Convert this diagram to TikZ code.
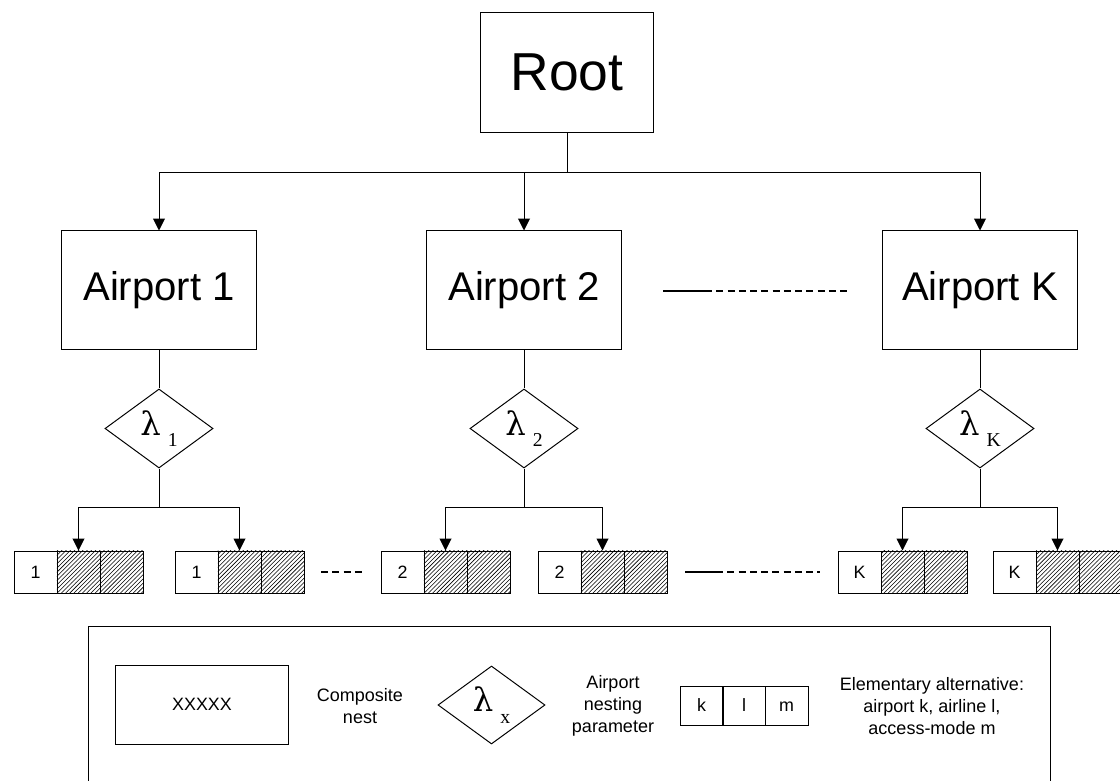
\documentclass[tikz,border=0pt]{standalone}
\usepackage{fontspec}
\setmainfont{Liberation Sans}
\newfontfamily\lamfont{Liberation Serif}
\newfontfamily\grecfont{DejaVu Serif}
\usetikzlibrary{shapes.geometric,arrows.meta,patterns}

\newcommand{\lamsub}[1]{{\grecfont\fontsize{23}{23}\selectfont λ\hspace{5pt}\raisebox{-8pt}{\lamfont\fontsize{14}{14}\selectfont #1}}}

\begin{document}
\begin{tikzpicture}[x=0.025cm,y=-0.025cm]
\tikzset{nest/.style={draw, line width=0.7pt, inner sep=0pt},
  lamnoeud/.style={draw, diamond, line width=0.7pt, inner sep=0pt, minimum width=2.7cm, minimum height=1.975cm},
  cell/.style={draw, line width=0.7pt, inner sep=0pt, minimum width=1.075cm, minimum height=1.05cm, text height=9pt, text depth=0pt, font=\fontsize{12.7}{14}\selectfont},
  hcell/.style={cell, pattern=north east lines},
  fleche/.style={line width=0.7pt, -{Triangle[length=8.5pt,width=8.5pt]}},
  pointilles/.style={line width=1.4pt, dash pattern=on 5pt off 3pt},
  legtext/.style={align=center, font=\fontsize{12.8}{15.6}\selectfont}}
\useasboundingbox (0,0) rectangle (1120,781);
% root and airports
\node[nest, minimum width=4.3cm, minimum height=2.975cm, font=\fontsize{38}{40}\selectfont] (root) at (567,72.5) {Root};
\node[nest, minimum width=4.85cm, minimum height=2.95cm, font=\fontsize{28.5}{30}\selectfont] (ap1) at (159,290) {Airport 1};
\node[nest, minimum width=4.85cm, minimum height=2.95cm, font=\fontsize{28.5}{30}\selectfont] (ap2) at (524,290) {Airport 2};
\node[nest, minimum width=4.85cm, minimum height=2.95cm, font=\fontsize{28.5}{30}\selectfont] (apK) at (980,290) {Airport K};
\coordinate (rj) at (567,172);
\draw[fleche] (root.south) -- (rj) -| (ap1.north);
\draw[fleche] (rj) -| (ap2.north);
\draw[fleche] (rj) -| (apK.north);
% nesting parameters
\node[lamnoeud] (d1) at (159,428.5) {\lamsub{1}};
\node[lamnoeud] (d2) at (524,428.5) {\lamsub{2}};
\node[lamnoeud] (dK) at (980,428.5) {\lamsub{K}};
\draw[line width=0.7pt] (ap1) -- (d1);
\draw[line width=0.7pt] (ap2) -- (d2);
\draw[line width=0.7pt] (apK) -- (dK);
% elementary alternatives
\node[cell] (e1a) at (35.5,572) {1};
\node[hcell] (e1b) at (78.5,572) {};
\node[hcell] (e1c) at (121.5,572) {};
\node[cell] (e2a) at (196.5,572) {1};
\node[hcell] (e2b) at (239.5,572) {};
\node[hcell] (e2c) at (282.5,572) {};
\node[cell] (e3a) at (402.5,572) {2};
\node[hcell] (e3b) at (445.5,572) {};
\node[hcell] (e3c) at (488.5,572) {};
\node[cell] (e4a) at (559.5,572) {2};
\node[hcell] (e4b) at (602.5,572) {};
\node[hcell] (e4c) at (645.5,572) {};
\node[cell] (e5a) at (859.5,572) {K};
\node[hcell] (e5b) at (902.5,572) {};
\node[hcell] (e5c) at (945.5,572) {};
\node[cell] (e6a) at (1014.5,572) {K};
\node[hcell] (e6b) at (1057.5,572) {};
\node[hcell] (e6c) at (1100.5,572) {};
\draw[fleche] (d1.south) -- ++(0,39) coordinate (j1) -| (e1b.north);
\draw[fleche] (j1) -| (e2b.north);
\draw[fleche] (d2.south) -- ++(0,39) coordinate (j2) -| (e3b.north);
\draw[fleche] (j2) -| (e4b.north);
\draw[fleche] (dK.south) -- ++(0,39) coordinate (jK) -| (e5b.north);
\draw[fleche] (jK) -| (e6b.north);
% dots between nodes
\coordinate (g1a) at (663,291);
\coordinate (g1b) at (705,291);
\coordinate (g1c) at (847,291);
\draw[line width=1.4pt] (g1a) -- (g1b);
\draw[pointilles] (g1b) -- (g1c);
\coordinate (g2a) at (321,572);
\coordinate (g2b) at (362,572);
\draw[pointilles] (g2a) -- (g2b);
\coordinate (g3a) at (685,572);
\coordinate (g3b) at (716,572);
\coordinate (g3c) at (820,572);
\draw[line width=1.4pt] (g3a) -- (g3b);
\draw[pointilles] (g3b) -- (g3c);
% legend
\draw[line width=0.7pt] (88,800) -- (88,626) -- (1050,626) -- (1050,800);
\node[nest, minimum width=4.3cm, minimum height=1.975cm, font=\fontsize{12.7}{14}\selectfont] (lnest) at (202,704.5) {XXXXX};
\node[legtext] (tnest) at (360,706) {Composite\\nest};
\node[lamnoeud, minimum width=2.675cm, minimum height=1.95cm] (lpar) at (491.5,705) {\lamsub{x}};
\node[legtext] (tpar) at (613,705.5) {Airport\\nesting\\parameter};
\node[cell, minimum height=0.975cm] (lk) at (701.5,705.5) {k};
\node[cell, minimum height=0.975cm] (ll) at (744,705.5) {l};
\node[cell, minimum height=0.975cm] (lm) at (786.5,705.5) {m};
\node[legtext] (talt) at (932,706) {Elementary alternative:\\airport k, airline l,\\access-mode m};
\end{tikzpicture}
\end{document}
